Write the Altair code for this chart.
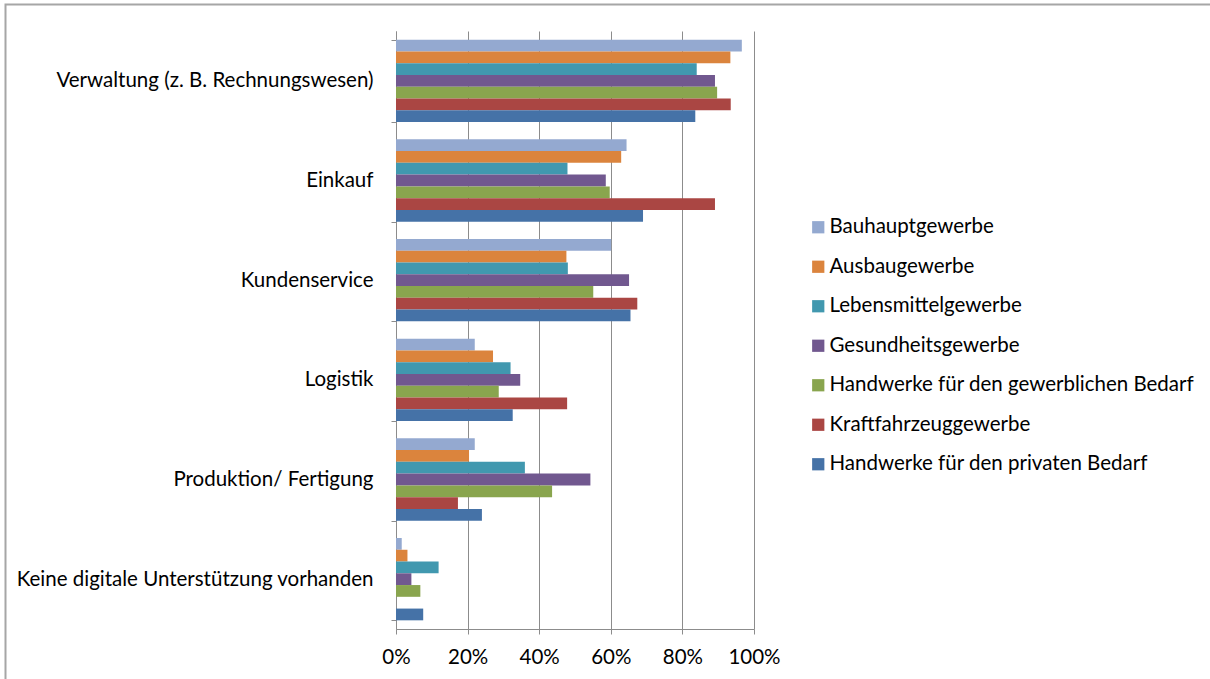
import altair as alt
import pandas as pd

# Business areas (top to bottom) and trade groups (legend order)
areas = [
    "Verwaltung (z. B. Rechnungswesen)",
    "Einkauf",
    "Kundenservice",
    "Logistik",
    "Produktion/ Fertigung",
    "Keine digitale Unterstützung vorhanden",
]
trades = [
    "Bauhauptgewerbe",
    "Ausbaugewerbe",
    "Lebensmittelgewerbe",
    "Gesundheitsgewerbe",
    "Handwerke für den gewerblichen Bedarf",
    "Kraftfahrzeuggewerbe",
    "Handwerke für den privaten Bedarf",
]
colors = ["#94A9D0", "#DB843D", "#4198AF", "#71588F", "#89A54E", "#AA4643", "#4572A7"]

# Share of businesses (percent) per trade, in the order of `areas`
bauhaupt = [96.6, 64.4, 60.1, 22.0, 22.0, 1.6]
ausbau = [93.4, 62.9, 47.6, 27.1, 20.4, 3.2]
lebensmittel = [84.0, 47.9, 48.0, 32.0, 36.0, 11.9]
gesundheit = [89.1, 58.6, 65.1, 34.7, 54.3, 4.3]
gewerblich = [89.7, 59.7, 55.1, 28.7, 43.6, 6.8]
kfz = [93.5, 89.1, 67.4, 47.8, 17.3, 0.0]
privat = [83.6, 69.0, 65.5, 32.6, 24.0, 7.6]

series = [bauhaupt, ausbau, lebensmittel, gesundheit, gewerblich, kfz, privat]
rows = []
for trade, vals in zip(trades, series):
    for area, v in zip(areas, vals):
        rows.append({"Bereich": area, "Gewerbe": trade, "Anteil": v / 100})
df = pd.DataFrame(rows)

FONT = "Lato"
FS = 20.5
GRID = "#8C8C8C"

bars = alt.Chart(df).mark_bar(size=11.76).encode(
    x=alt.X(
        "Anteil:Q",
        scale=alt.Scale(domain=[0, 1], nice=False),
        axis=alt.Axis(
            values=[0, 0.2, 0.4, 0.6, 0.8, 1.0],
            format=".0%",
            title=None,
            grid=True,
            gridColor=GRID,
            gridWidth=1,
            domainColor=GRID,
            tickColor=GRID,
            tickSize=5,
            labelPadding=13,
            labelFlush=False,
            labelOverlap=False,
            labelFont=FONT,
            labelFontSize=FS,
            labelColor="#000000",
        ),
    ),
    y=alt.Y(
        "Bereich:N",
        sort=areas,
        scale=alt.Scale(paddingInner=0.174, paddingOuter=0.087),
        axis=alt.Axis(
            title=None,
            grid=False,
            tickBand="extent",
            domainColor=GRID,
            tickColor=GRID,
            tickSize=5,
            labelPadding=18,
            labelFont=FONT,
            labelFontSize=FS,
            labelColor="#000000",
            labelLimit=400,
        ),
    ),
    yOffset=alt.YOffset("Gewerbe:N", sort=trades, scale=alt.Scale(paddingInner=0, paddingOuter=0)),
    color=alt.Color(
        "Gewerbe:N",
        sort=trades,
        scale=alt.Scale(domain=trades, range=colors),
        legend=alt.Legend(
            title=None,
            orient="none",
            legendX=412,
            legendY=186,
            symbolType="square",
            symbolSize=150,
            symbolStrokeWidth=0,
            labelFont=FONT,
            labelFontSize=FS,
            labelColor="#000000",
            labelOffset=1,
            rowPadding=18.5,
            padding=0,
            labelLimit=500,
        ),
    ),
)

# Thin frame around the whole chart
frame = alt.Chart(alt.Data(values=[{}])).mark_rect(
    fill=None, stroke="#A6A6A6", strokeWidth=2
).encode(
    x=alt.value(-390.5),
    y=alt.value(-26.5),
    x2=alt.value(900),
    y2=alt.value(700),
)

chart = alt.layer(frame, bars).properties(
    width=358,
    height=598,
    padding={"left": 396, "top": 31, "right": 456, "bottom": 50},
    autosize=alt.AutoSizeParams(type="none"),
    background="white",
).configure_view(stroke=None)

chart.save("out.html", embed_options={"renderer": "svg", "actions": False})
